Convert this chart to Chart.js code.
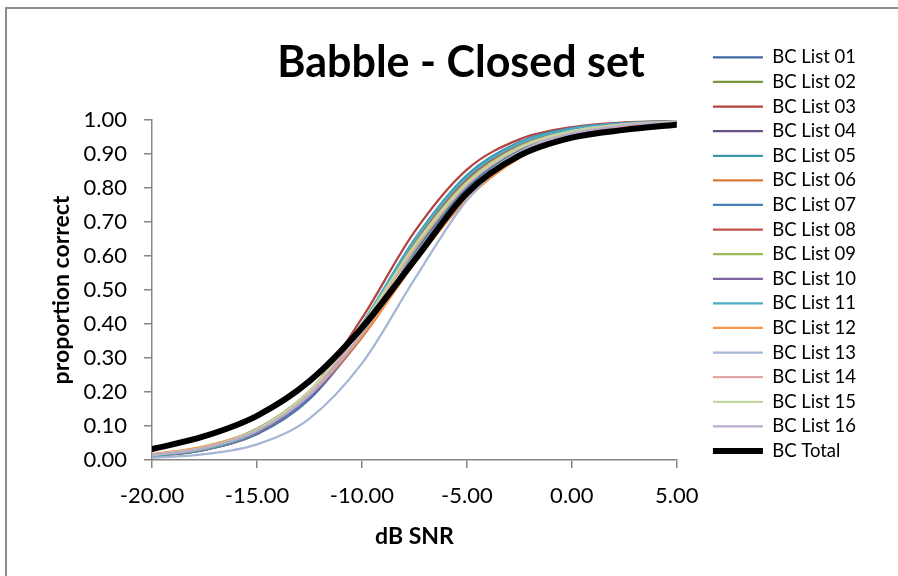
<!DOCTYPE html>
<html>
<head>
<meta charset="utf-8">
<script src="https://cdn.jsdelivr.net/npm/chart.js@4.4.1/dist/chart.umd.min.js"></script>
<style>
  html, body { margin: 0; padding: 0; background: #fff; overflow: hidden; }
  #wrap { width: 898px; height: 576px; position: relative; }
</style>
</head>
<body>
<div id="wrap"><canvas id="babbleChart" width="898" height="576"></canvas></div>
<script>
/* ===== data ===== */
const snr = [-20, -17.5, -15, -12.5, -10, -7.5, -5, -2.5, 0, 2.5, 5];

const list01 = [0.012, 0.030, 0.076, 0.179, 0.367, 0.606, 0.803, 0.915, 0.966, 0.987, 0.995];
const list02 = [0.016, 0.039, 0.092, 0.203, 0.391, 0.618, 0.803, 0.911, 0.963, 0.985, 0.994];
const list03 = [0.011, 0.030, 0.081, 0.200, 0.417, 0.671, 0.854, 0.943, 0.979, 0.993, 0.997];
const list04 = [0.014, 0.035, 0.083, 0.185, 0.365, 0.591, 0.785, 0.902, 0.959, 0.983, 0.993];
const list05 = [0.011, 0.030, 0.079, 0.192, 0.399, 0.649, 0.838, 0.935, 0.976, 0.991, 0.997];
const list06 = [0.015, 0.036, 0.085, 0.186, 0.360, 0.580, 0.773, 0.893, 0.954, 0.981, 0.992];
const list07 = [0.012, 0.032, 0.078, 0.182, 0.368, 0.604, 0.800, 0.913, 0.965, 0.986, 0.995];
const list08 = [0.012, 0.031, 0.080, 0.192, 0.392, 0.636, 0.826, 0.928, 0.972, 0.990, 0.996];
const list09 = [0.014, 0.035, 0.087, 0.200, 0.397, 0.632, 0.818, 0.921, 0.969, 0.988, 0.995];
const list10 = [0.015, 0.036, 0.084, 0.186, 0.362, 0.586, 0.779, 0.898, 0.956, 0.982, 0.993];
const list11 = [0.012, 0.032, 0.083, 0.198, 0.401, 0.646, 0.832, 0.931, 0.973, 0.990, 0.996];
const list12 = [0.017, 0.040, 0.090, 0.192, 0.364, 0.578, 0.767, 0.888, 0.950, 0.978, 0.991];
const list13 = [0.006, 0.017, 0.046, 0.122, 0.284, 0.531, 0.764, 0.903, 0.964, 0.987, 0.995];
const list14 = [0.014, 0.035, 0.087, 0.197, 0.388, 0.621, 0.809, 0.916, 0.966, 0.987, 0.995];
const list15 = [0.015, 0.037, 0.090, 0.203, 0.397, 0.630, 0.815, 0.919, 0.967, 0.987, 0.995];
const list16 = [0.015, 0.036, 0.086, 0.191, 0.373, 0.600, 0.791, 0.905, 0.960, 0.984, 0.994];
const total  = [0.032, 0.070, 0.130, 0.232, 0.389, 0.587, 0.785, 0.895, 0.948, 0.971, 0.986];

const seriesNames = [
    "BC List 01","BC List 02","BC List 03","BC List 04","BC List 05","BC List 06",
    "BC List 07","BC List 08","BC List 09","BC List 10","BC List 11","BC List 12",
    "BC List 13","BC List 14","BC List 15","BC List 16","BC Total"
];
const seriesValues = [
    list01, list02, list03, list04, list05, list06, list07, list08,
    list09, list10, list11, list12, list13, list14, list15, list16, total
];
const seriesColors = [
    "#3F6AA0","#77973D","#B34340","#69508A","#3C96AE","#D97A35",
    "#4A7EBB","#C0504D","#9BBB59","#8064A2","#4BACC6","#F79646",
    "#A5B6D6","#DFA7A6","#C4D6A0","#B9ADCB","#000000"
];

const axisGrey = "#868686";
const FONT = "Lato, 'Open Sans', sans-serif";

/* ===== frame + title ===== */
const frameAndTitle = {
    id: "frameAndTitle",
    beforeDraw(chart){
        const c = chart.ctx;
        c.save();
        c.strokeStyle = "#8c8c8c";
        c.lineWidth = 2;
        c.beginPath();
        c.moveTo(6, 600);
        c.lineTo(6, 8);
        c.lineTo(900, 8);
        c.stroke();
        c.restore();
    },
    afterDraw(chart){
        const c = chart.ctx;
        c.save();
        c.font = "bold 43px " + FONT;
        c.fillStyle = "#000";
        c.textAlign = "center";
        c.textBaseline = "alphabetic";
        c.fillText("Babble - Closed set", 461, 77);
        c.restore();
    }
};

const datasets = seriesNames.map((name, i) => ({
    label: name,
    data: snr.map((x, j) => ({ x: x, y: seriesValues[i][j] })),
    borderColor: seriesColors[i],
    backgroundColor: seriesColors[i],
    borderWidth: i === 16 ? 6 : 2.25,
    borderCapStyle: "round",
    pointRadius: 0,
    pointHoverRadius: 0,
    cubicInterpolationMode: "monotone",
    fill: false,
    order: 17 - i
}));

new Chart(document.getElementById("babbleChart"), {
    type: "line",
    data: { datasets: datasets },
    plugins: [frameAndTitle],
    options: {
        responsive: false,
        animation: false,
        layout: { padding: { top: 42, right: 32, bottom: 0, left: 0 } },
        plugins: {
            title: { display: false },
            tooltip: { enabled: false },
            legend: {
                display: true,
                position: "right",
                align: "start",
                maxWidth: 300,
                labels: {
                    usePointStyle: true,
                    pointStyle: "line",
                    pointStyleWidth: 50,
                    padding: 6.1,
                    color: "#000",
                    font: { family: FONT, size: 18.5 },
                    sort: (a, b) => a.datasetIndex - b.datasetIndex
                }
            }
        },
        scales: {
            x: {
                type: "linear",
                position: "bottom",
                min: -20,
                max: 5,
                afterFit: s => { s.height = 116; },
                ticks: {
                    stepSize: 5,
                    padding: 15,
                    color: "#000",
                    font: { family: FONT, size: 22 },
                    callback: v => v.toFixed(2)
                },
                grid: { display: true, drawOnChartArea: false, drawTicks: true, tickLength: 8, color: axisGrey, lineWidth: 1.5 },
                border: { display: true, color: axisGrey, width: 1.5 },
                title: {
                    display: true,
                    text: "dB SNR",
                    color: "#000",
                    font: { family: FONT, size: 23, weight: "bold" },
                    padding: { top: 0, bottom: 26 }
                }
            },
            y: {
                type: "linear",
                position: "left",
                min: 0,
                max: 1,
                afterFit: s => { s.width = 152; },
                ticks: {
                    stepSize: 0.1,
                    padding: 17,
                    color: "#000",
                    font: { family: FONT, size: 22 },
                    callback: v => v.toFixed(2)
                },
                grid: { display: true, drawOnChartArea: false, drawTicks: true, tickLength: 8, color: axisGrey, lineWidth: 1.5 },
                border: { display: true, color: axisGrey, width: 1.5 },
                title: {
                    display: true,
                    text: "proportion correct",
                    color: "#000",
                    font: { family: FONT, size: 23, weight: "bold" },
                    padding: { top: 48, bottom: 0 }
                }
            },
            topGap: {
                type: "linear",
                axis: "x",
                position: "top",
                display: true,
                afterFit: s => { s.height = 78; },
                ticks: { display: false },
                grid: { display: false },
                border: { display: false }
            },
            rightGap: {
                type: "linear",
                axis: "y",
                position: "right",
                display: true,
                afterFit: s => { s.width = 30; },
                ticks: { display: false },
                grid: { display: false },
                border: { display: false }
            }
        }
    }
});
</script>
</body>
</html>
